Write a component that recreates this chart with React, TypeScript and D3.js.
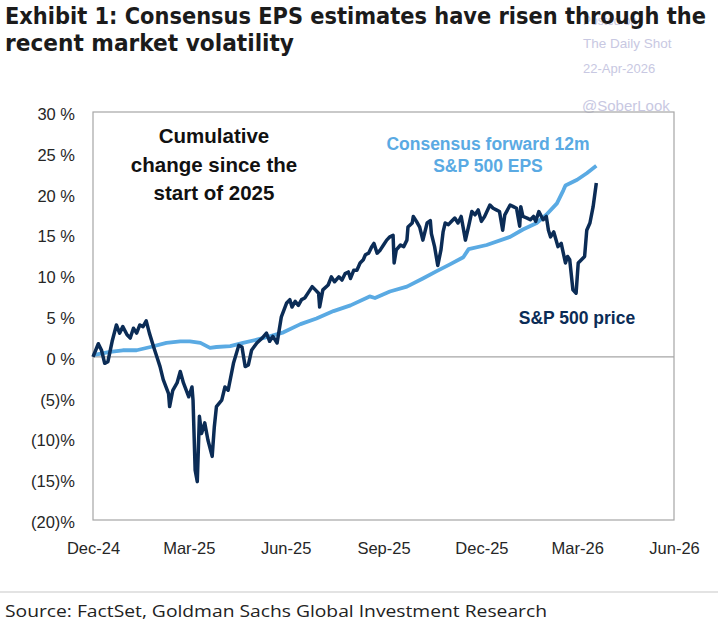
import React, { useRef, useEffect } from 'react';
import * as d3 from 'd3';

// S&P 500 price, cumulative % change since start of 2025
const priceDates = [
  '2024-12-31', '2025-01-05', '2025-01-08', '2025-01-11', '2025-01-14', '2025-01-18', '2025-01-22', '2025-01-25',
  '2025-01-28', '2025-02-01', '2025-02-04', '2025-02-07', '2025-02-10', '2025-02-13', '2025-02-16', '2025-02-19',
  '2025-02-22', '2025-02-26', '2025-03-01', '2025-03-04', '2025-03-07', '2025-03-12', '2025-03-13', '2025-03-16',
  '2025-03-20', '2025-03-23', '2025-03-26', '2025-03-31', '2025-04-03', '2025-04-04', '2025-04-06', '2025-04-08',
  '2025-04-10', '2025-04-12', '2025-04-15', '2025-04-18', '2025-04-22', '2025-04-24', '2025-04-26', '2025-05-01',
  '2025-05-04', '2025-05-07', '2025-05-12', '2025-05-17', '2025-05-20', '2025-05-23', '2025-05-26', '2025-05-29',
  '2025-06-03', '2025-06-08', '2025-06-12', '2025-06-15', '2025-06-18', '2025-06-22', '2025-06-26', '2025-07-01',
  '2025-07-04', '2025-07-06', '2025-07-09', '2025-07-12', '2025-07-15', '2025-07-18', '2025-07-21', '2025-07-25',
  '2025-07-28', '2025-07-31', '2025-08-01', '2025-08-04', '2025-08-09', '2025-08-12', '2025-08-15', '2025-08-19',
  '2025-08-22', '2025-08-25', '2025-08-28', '2025-08-30', '2025-09-02', '2025-09-05', '2025-09-08', '2025-09-11',
  '2025-09-13', '2025-09-16', '2025-09-19', '2025-09-21', '2025-09-24', '2025-09-27', '2025-09-30', '2025-10-03',
  '2025-10-06', '2025-10-09', '2025-10-10', '2025-10-12', '2025-10-16', '2025-10-19', '2025-10-22', '2025-10-23',
  '2025-10-27', '2025-10-28', '2025-10-31', '2025-11-03', '2025-11-06', '2025-11-10', '2025-11-13', '2025-11-14',
  '2025-11-17', '2025-11-20', '2025-11-23', '2025-11-25', '2025-11-27', '2025-11-30', '2025-12-03', '2025-12-06',
  '2025-12-09', '2025-12-12', '2025-12-16', '2025-12-19', '2025-12-22', '2025-12-25', '2025-12-28', '2025-12-31',
  '2026-01-03', '2026-01-08', '2026-01-11', '2026-01-14', '2026-01-17', '2026-01-20', '2026-01-22', '2026-01-27',
  '2026-01-30', '2026-02-02', '2026-02-05', '2026-02-06', '2026-02-08', '2026-02-12', '2026-02-15', '2026-02-18',
  '2026-02-20', '2026-02-23', '2026-02-27', '2026-03-02', '2026-03-04', '2026-03-06', '2026-03-09', '2026-03-13',
  '2026-03-16', '2026-03-20', '2026-03-22', '2026-03-24', '2026-03-27', '2026-03-30', '2026-04-01', '2026-04-04',
  '2026-04-07', '2026-04-09', '2026-04-12', '2026-04-15', '2026-04-18',
];
const priceValues = [
  0.0, 1.6, 0.8, -0.8, -0.6, 1.9, 3.9, 2.9,
  3.7, 2.7, 2.3, 3.5, 2.9, 3.9, 3.7, 4.4,
  2.9, 1.2, 0.0, -1.2, -2.8, -4.5, -6.1, -4.1,
  -3.2, -1.8, -3.2, -4.9, -3.7, -5.3, -13.9, -15.3,
  -7.3, -9.4, -8.1, -10.2, -12.2, -8.6, -6.1, -5.3,
  -3.7, -4.1, -0.8, 1.4, 1.2, -1.2, -1.0, 0.8,
  1.7, 2.3, 2.9, 1.9, 2.5, 1.7, 4.9, 6.6,
  7.0, 6.1, 6.8, 6.3, 7.0, 7.2, 7.8, 8.6,
  8.2, 7.8, 6.1, 8.2, 8.8, 9.8, 9.2, 9.8,
  9.4, 10.2, 10.4, 9.6, 10.6, 10.6, 11.5, 11.9,
  12.5, 12.7, 13.5, 13.9, 12.7, 13.1, 13.7, 14.3,
  14.7, 14.9, 11.5, 13.1, 13.7, 13.5, 14.3, 15.9,
  16.4, 17.2, 16.6, 15.9, 14.3, 16.4, 16.7, 15.1,
  13.5, 11.2, 13.1, 15.3, 16.4, 16.2, 16.6, 17.0,
  16.4, 17.2, 14.3, 16.0, 17.8, 17.4, 18.0, 16.6,
  17.2, 18.6, 18.2, 18.0, 17.8, 15.5, 17.4, 18.6,
  18.4, 18.2, 16.0, 18.4, 17.2, 17.0, 16.8, 17.2,
  16.6, 17.8, 16.8, 17.2, 15.5, 14.7, 15.3, 13.5,
  13.9, 11.5, 12.3, 11.9, 8.2, 7.8, 11.5, 11.9,
  12.3, 15.5, 16.4, 18.4, 21.3,
];

// Consensus forward 12m S&P 500 EPS, cumulative % change
const epsDates = [
  '2024-12-31', '2025-01-16', '2025-01-28', '2025-02-10', '2025-02-23', '2025-03-10', '2025-03-23', '2025-04-01',
  '2025-04-11', '2025-04-20', '2025-04-26', '2025-05-09', '2025-05-21', '2025-06-03', '2025-06-15', '2025-06-28',
  '2025-07-14', '2025-07-29', '2025-08-14', '2025-08-30', '2025-09-17', '2025-09-22', '2025-10-06', '2025-10-22',
  '2025-11-06', '2025-11-19', '2025-12-01', '2025-12-14', '2025-12-19', '2026-01-05', '2026-01-27', '2026-02-08',
  '2026-02-21', '2026-03-02', '2026-03-12', '2026-03-18', '2026-03-20', '2026-03-31', '2026-04-09', '2026-04-18',
];
const epsValues = [
  0.2, 0.6, 0.8, 0.8, 1.2, 1.7, 1.9, 1.9,
  1.7, 1.1, 1.2, 1.3, 1.7, 2.1, 2.5, 3.0,
  4.0, 4.7, 5.6, 6.3, 7.4, 7.2, 8.0, 8.6,
  9.6, 10.5, 11.3, 12.2, 13.2, 13.7, 14.7, 15.6,
  16.4, 17.4, 18.8, 20.4, 21.0, 21.7, 22.5, 23.4,
];

const xTickDates = ['2024-12-31', '2025-03-31', '2025-06-30', '2025-09-30', '2025-12-31', '2026-03-31', '2026-06-30'];
const xTickLabels = ['Dec-24', 'Mar-25', 'Jun-25', 'Sep-25', 'Dec-25', 'Mar-26', 'Jun-26'];
const yTicks = [30, 25, 20, 15, 10, 5, 0, -5, -10, -15, -20];

const NAVY = '#0b2c56';
const LIGHT = '#5aaae3';
const ARIAL = '"Liberation Sans", Arial, sans-serif';

const W = 718;
const H = 627;
const margin = { left: 93, right: 44, top: 112, bottom: 107 };

const fmtPct = (v: number) => (v < 0 ? `(${-v})%` : `${v} %`);

const App: React.FC = () => {
  const svgRef = useRef<SVGSVGElement | null>(null);

  useEffect(() => {
    if (!svgRef.current) return;
    const parse = d3.utcParse('%Y-%m-%d');
    const svg = d3.select(svgRef.current);
    svg.selectAll('*').remove();

    const x = d3.scaleUtc()
      .domain([parse('2024-12-31') as Date, parse('2026-06-30') as Date])
      .range([margin.left, W - margin.right]);
    const y = d3.scaleLinear()
      .domain([-20, 30])
      .range([H - margin.bottom, margin.top]);

    // watermark (behind the title)
    const wm = svg.append('g').attr('fill', '#c8c8e2').attr('font-family', ARIAL);
    wm.append('text').attr('x', 583).attr('y', 25).attr('font-size', 12).text('Posted on');
    wm.append('text').attr('x', 583).attr('y', 48).attr('font-size', 13.5).text('The Daily Shot');
    wm.append('text').attr('x', 583).attr('y', 73).attr('font-size', 13).text('22-Apr-2026');
    wm.append('text').attr('x', 582).attr('y', 111).attr('font-size', 15).text('@SoberLook');

    // title
    const title = svg.append('g')
      .attr('font-family', '"Liberation Sans Narrow", "DejaVu Sans Condensed", "Arial Narrow", sans-serif')
      .attr('font-weight', 'bold')
      .attr('font-size', 22.5)
      .attr('fill', '#1b1b1b');
    title.append('text').attr('x', 5).attr('y', 24)
      .attr('textLength', 701).attr('lengthAdjust', 'spacingAndGlyphs')
      .text('Exhibit 1: Consensus EPS estimates have risen through the');
    title.append('text').attr('x', 5).attr('y', 50.5)
      .attr('textLength', 289).attr('lengthAdjust', 'spacingAndGlyphs')
      .text('recent market volatility');

    // plot frame
    svg.append('rect')
      .attr('x', margin.left).attr('y', margin.top)
      .attr('width', W - margin.left - margin.right)
      .attr('height', H - margin.top - margin.bottom)
      .attr('fill', 'none').attr('stroke', '#a6a6a6').attr('stroke-width', 1.2);

    // zero line
    svg.append('line')
      .attr('x1', margin.left).attr('x2', W - margin.right)
      .attr('y1', y(0)).attr('y2', y(0))
      .attr('stroke', '#a6a6a6').attr('stroke-width', 1.2);

    // y axis
    const yAxis = d3.axisLeft(y)
      .tickValues(yTicks)
      .tickSize(0)
      .tickPadding(18)
      .tickFormat(d => fmtPct(d as number));
    const gY = svg.append('g').attr('transform', `translate(${margin.left},0)`).call(yAxis);
    gY.select('.domain').remove();
    gY.selectAll('text')
      .attr('font-family', ARIAL).attr('font-size', 16.5).attr('fill', '#262626')
      .attr('dy', '0.45em');

    // x axis
    const xAxis = d3.axisBottom(x)
      .tickValues(xTickDates.map(d => parse(d) as Date))
      .tickSize(0)
      .tickPadding(22)
      .tickFormat((_, i) => xTickLabels[i]);
    const gX = svg.append('g').attr('transform', `translate(0,${H - margin.bottom})`).call(xAxis);
    gX.select('.domain').remove();
    gX.selectAll('text')
      .attr('font-family', ARIAL).attr('font-size', 16.5).attr('fill', '#262626');

    const line = d3.line<[Date, number]>()
      .x(d => x(d[0]))
      .y(d => y(d[1]))
      .curve(d3.curveLinear);

    const epsData = epsDates.map((d, i) => [parse(d) as Date, epsValues[i]] as [Date, number]);
    const priceData = priceDates.map((d, i) => [parse(d) as Date, priceValues[i]] as [Date, number]);

    svg.append('path')
      .datum(epsData)
      .attr('fill', 'none').attr('stroke', LIGHT).attr('stroke-width', 3.8)
      .attr('stroke-linejoin', 'round')
      .attr('d', line);

    svg.append('path')
      .datum(priceData)
      .attr('fill', 'none').attr('stroke', NAVY).attr('stroke-width', 3.5)
      .attr('stroke-linejoin', 'round')
      .attr('d', line);

    // annotations
    const ann = svg.append('g').attr('font-family', ARIAL).attr('font-weight', 'bold').attr('text-anchor', 'middle');
    ['Cumulative', 'change since the', 'start of 2025'].forEach((t, i) => {
      ann.append('text').attr('x', 214).attr('y', 143 + i * 28.5)
        .attr('font-size', 20.5).attr('fill', '#111').text(t);
    });
    ['Consensus forward 12m', 'S&P 500 EPS'].forEach((t, i) => {
      ann.append('text').attr('x', 488).attr('y', 150 + i * 22)
        .attr('font-size', 17.5).attr('fill', LIGHT).text(t);
    });
    ann.append('text').attr('x', 577).attr('y', 324)
      .attr('font-size', 17.5).attr('fill', NAVY).text('S&P 500 price');

    // source
    svg.append('line')
      .attr('x1', 0).attr('x2', W).attr('y1', 592).attr('y2', 592)
      .attr('stroke', '#c8c8c8').attr('stroke-width', 1.2);
    svg.append('text')
      .attr('x', 5).attr('y', 617)
      .attr('font-family', '"Open Sans", "Noto Sans", sans-serif')
      .attr('font-size', 17).attr('fill', '#222')
      .attr('textLength', 542).attr('lengthAdjust', 'spacingAndGlyphs')
      .text('Source: FactSet, Goldman Sachs Global Investment Research');
  }, []);

  return (
    <svg
      ref={svgRef}
      width={W}
      height={H}
      style={{ position: 'absolute', left: 0, top: 0, background: '#fff' }}
    />
  );
};

export default App;
